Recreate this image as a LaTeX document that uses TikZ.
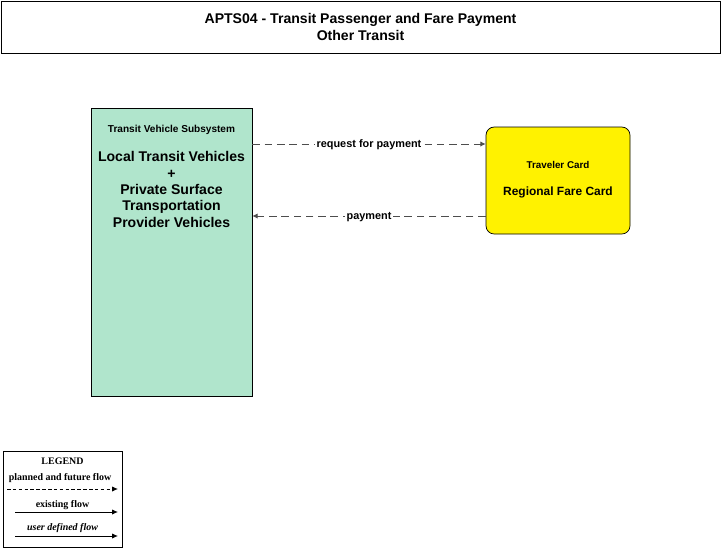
\documentclass[tikz,border=0pt]{standalone}
\usepackage{fontspec}
\setmainfont{Liberation Sans}
\newfontfamily\legendfont{Liberation Serif}
\usetikzlibrary{arrows.meta,calc}
\definecolor{tvsgreen}{HTML}{B0E5CC}
\definecolor{flowgray}{HTML}{4D4D4D}

\begin{document}
\begin{tikzpicture}[x=0.03cm, y=-0.03cm,
  box/.style={draw, line width=0.6pt, inner sep=0pt},
  flow/.style={draw=flowgray, dash pattern=on 6.5pt off 4pt, line width=0.7pt, -{Latex[length=4.5pt,width=4.5pt]}},
  flowlabel/.style={fill=white, inner sep=1.5pt, yshift=-0.8pt, font=\fontsize{9.3}{11}\selectfont\bfseries},
  legendtext/.style={font=\legendfont\fontsize{8.5}{10}\selectfont\bfseries},
  legenditalic/.style={font=\legendfont\fontsize{8.5}{10}\selectfont\bfseries\itshape},
  legendarrow/.style={line width=0.8pt, -{Latex[length=5pt,width=4.5pt]}}]
\useasboundingbox (0,0) rectangle (721,550);

% title
\node[box, minimum width=719*0.03cm, minimum height=52*0.03cm, align=center,
  font=\fontsize{12}{14.5}\selectfont\bfseries] (title) at (360.5,27)
  {APTS04 - Transit Passenger and Fare Payment\\Other Transit};

% subsystems
\node[box, fill=tvsgreen, minimum width=161*0.03cm, minimum height=288*0.03cm] (tvs) at (171.5,252) {};
\node[font=\fontsize{8.6}{10}\selectfont\bfseries] (tvstype) at (171.5,130) {Transit Vehicle Subsystem};
\node[align=center, font=\fontsize{12}{14}\selectfont\bfseries] (tvsname) at (171.5,189.5)
  {Local Transit Vehicles\\+\\Private Surface\\Transportation\\Provider Vehicles};

\node[box, fill=yellow, rounded corners=7pt, minimum width=144*0.03cm, minimum height=107*0.03cm] (card) at (558,180.5) {};
\node[font=\fontsize{8.4}{10}\selectfont\bfseries] (cardtype) at (558,165) {Traveler Card};
\node[font=\fontsize{10.2}{12}\selectfont\bfseries] (cardname) at (558,192) {Regional Fare Card};

% flows
\coordinate (reqA) at (tvs.east |- 0,144);
\coordinate (reqB) at (card.west |- 0,144);
\coordinate (payA) at (card.west |- 0,216);
\coordinate (payB) at (tvs.east |- 0,216);
\draw[flow] (reqA) -- node[flowlabel] {request for payment} (reqB);
\draw[flow] (payA) -- node[flowlabel] {payment} (payB);

% legend
\node[box, minimum width=119*0.03cm, minimum height=96*0.03cm] (legend) at (62.5,499) {};
\node[legendtext] (legtitle) at (62.5,461) {LEGEND};
\node[legendtext] (legplanned) at (60,478) {planned and future flow};
\node[legendtext] (legexist) at (62.5,505) {existing flow};
\node[legenditalic] (leguser) at (62.5,528) {user defined flow};
\coordinate (p1) at (7,489);
\coordinate (p2) at (118,489);
\coordinate (e1) at (15,512);
\coordinate (e2) at (118,512);
\coordinate (u1) at (15,536);
\coordinate (u2) at (118,536);
\draw[legendarrow, dash pattern=on 3pt off 2pt] (p1) -- (p2);
\draw[legendarrow] (e1) -- (e2);
\draw[legendarrow] (u1) -- (u2);
\end{tikzpicture}
\end{document}
